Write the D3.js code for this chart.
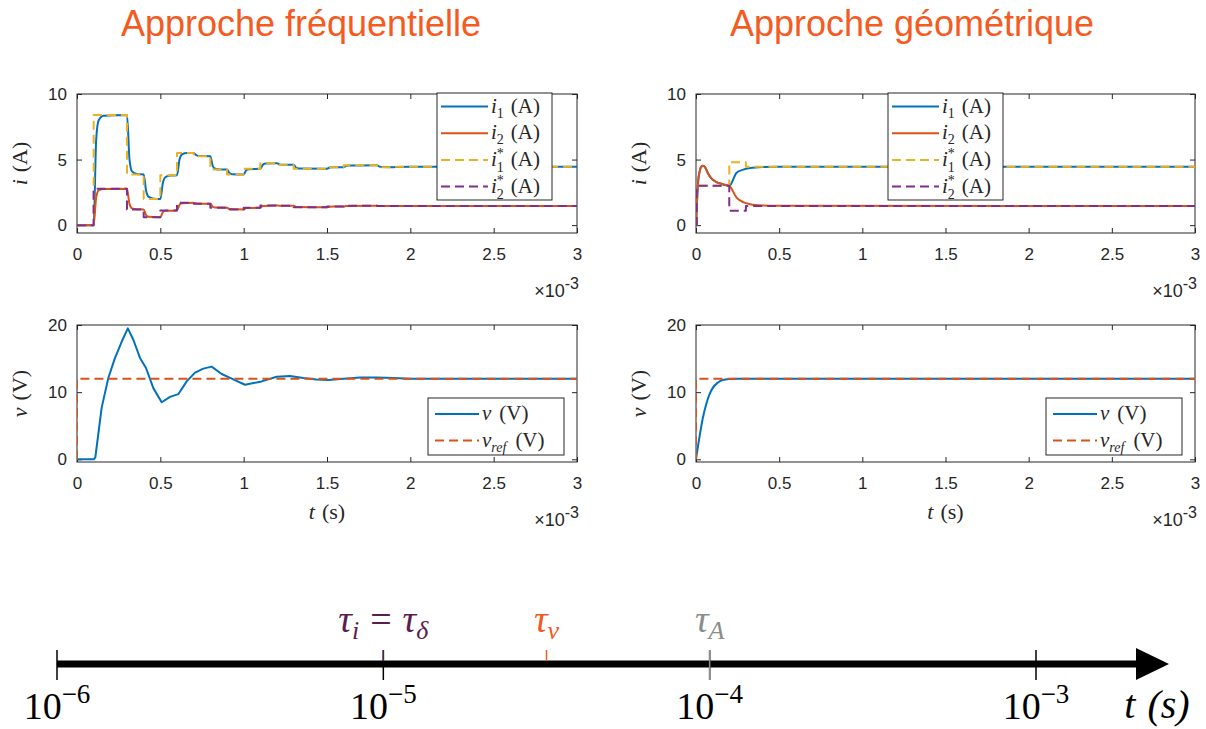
<!DOCTYPE html>
<meta charset="utf-8">
<style>
  body { margin: 0; background: #fff; }
  .tick text { font-family: "Liberation Sans", Arial, sans-serif; font-size: 17px; }
  .math { font-family: "Liberation Serif", "DejaVu Serif", serif; }
  .title { font-family: "Liberation Sans", Arial, sans-serif; font-size: 36px; fill: #f55a1e; }
</style>
<body>
<svg width="1206" height="729"></svg>
</body>
<script src="https://d3js.org/d3.v7.min.js"></script>
<script>
    let BLUE = "#0072BD", RED = "#D95319", YELLOW = "#EDB120", PURPLE = "#7E2F8E";
    let INK = "#262626";

    // ---- data, time in ms ----
    // approche frequentielle : courants (mesures + references en escalier)
    let i1Freq = [[0,0],[0.1,0],[0.115,6.5],[0.13,8.0],[0.16,8.35],[0.3,8.4],
        [0.315,5.0],[0.33,4.1],[0.36,3.9],[0.4,3.86],[0.415,2.6],[0.43,2.15],[0.46,2.02],[0.5,2.0],
        [0.515,3.2],[0.53,3.65],[0.56,3.78],[0.6,3.8],[0.615,5.0],[0.63,5.4],[0.66,5.5],[0.7,5.5],
        [0.715,5.33],[0.73,5.28],[0.8,5.26],[0.815,4.5],[0.83,4.3],[0.86,4.24],[0.9,4.24],
        [0.915,3.97],[0.93,3.88],[1.0,3.86],[1.015,4.18],[1.03,4.27],[1.1,4.3],
        [1.115,4.6],[1.13,4.7],[1.2,4.72],[1.215,4.63],[1.23,4.6],[1.3,4.6],
        [1.315,4.38],[1.33,4.32],[1.5,4.3],[1.515,4.39],[1.53,4.41],[1.6,4.42],
        [1.615,4.52],[1.63,4.55],[1.8,4.56],[1.815,4.46],[1.83,4.43],[1.9,4.42],[1.915,4.44],[2.0,4.45],[3.0,4.45]];
    let i2Freq = [[0,0],[0.1,0],[0.115,2.1],[0.13,2.65],[0.16,2.75],[0.3,2.77],
        [0.315,1.6],[0.33,1.28],[0.36,1.21],[0.4,1.2],[0.415,0.75],[0.43,0.63],[0.5,0.6],
        [0.515,0.99],[0.53,1.09],[0.6,1.12],[0.615,1.55],[0.63,1.67],[0.7,1.7],
        [0.715,1.65],[0.8,1.63],[0.815,1.4],[0.83,1.35],[0.9,1.33],[0.915,1.23],[1.0,1.2],
        [1.015,1.3],[1.1,1.33],[1.115,1.46],[1.2,1.5],[1.215,1.48],[1.3,1.48],
        [1.315,1.39],[1.5,1.36],[1.515,1.41],[1.6,1.42],[1.615,1.46],[1.8,1.47],[1.815,1.45],[3.0,1.45]];
    let i1RefFreq = [[0,0],[0.1,8.4],[0.3,3.86],[0.4,2.0],[0.5,3.8],[0.6,5.5],[0.7,5.26],[0.8,4.24],
        [0.9,3.86],[1.0,4.3],[1.1,4.72],[1.2,4.6],[1.3,4.3],[1.5,4.42],[1.6,4.56],[1.8,4.42],[1.9,4.45],[3.0,4.45]];
    let i2RefFreq = [[0,0],[0.1,2.77],[0.3,1.2],[0.4,0.6],[0.5,1.12],[0.6,1.7],[0.7,1.63],[0.8,1.33],
        [0.9,1.2],[1.0,1.33],[1.1,1.5],[1.2,1.48],[1.3,1.36],[1.5,1.42],[1.6,1.47],[1.8,1.45],[3.0,1.45]];

    // approche geometrique : courants
    let i1Geo = [[0,0],[0.005,1.5],[0.012,3.2],[0.022,4.1],[0.032,4.45],[0.044,4.52],[0.055,4.4],
        [0.07,4.0],[0.09,3.6],[0.12,3.3],[0.16,3.12],[0.2,3.0],[0.244,4.0],[0.284,4.23],
        [0.325,4.35],[0.4,4.43],[0.5,4.45],[3.0,4.45]];
    let i2Geo = [[0,0],[0.005,1.5],[0.012,3.2],[0.022,4.1],[0.032,4.45],[0.044,4.52],[0.055,4.4],
        [0.07,4.0],[0.09,3.6],[0.12,3.3],[0.16,3.12],[0.2,3.0],[0.244,2.1],[0.284,1.75],
        [0.325,1.6],[0.4,1.5],[0.5,1.47],[3.0,1.45]];
    let i1RefGeo = [[0,0],[0.005,3.0],[0.2,4.8],[0.3,4.45],[3.0,4.45]];
    let i2RefGeo = [[0,0],[0.005,3.0],[0.2,1.1],[0.3,1.45],[3.0,1.45]];

    // tensions
    let vFreq = [[0,0],[0.1,0],[0.11,0.3],[0.148,7.7],[0.188,12.1],[0.228,15.1],[0.268,17.5],
        [0.305,19.5],[0.338,17.8],[0.378,15.1],[0.414,13.6],[0.458,10.6],[0.508,8.5],[0.558,9.3],
        [0.608,9.7],[0.658,11.6],[0.708,12.9],[0.758,13.5],[0.808,13.8],[0.868,12.7],[0.938,11.9],
        [1.008,11.1],[1.108,11.6],[1.198,12.3],[1.278,12.4],[1.358,12.1],[1.438,11.9],[1.508,11.8],
        [1.6,12.0],[1.7,12.2],[1.8,12.2],[1.9,12.1],[2.0,12.0],[2.2,12.0],[3.0,12.0]];
    let vGeo = [[0,0],[0.02,3.2],[0.04,6.0],[0.06,8.1],[0.08,9.6],[0.1,10.6],[0.13,11.4],
        [0.16,11.8],[0.2,11.95],[0.25,12.0],[3.0,12.0]];
    let vRef = [[0,0],[0,12],[3.0,12]];

    let xTicks = [0, 0.5, 1, 1.5, 2, 2.5, 3];

    // echelle de temps (s)
    let decades = [-6, -5, -4, -3];
    let taus = [
        {value: 1e-5, color: "#5a1d4c", full: false},
        {value: Math.pow(10, -4.5), color: "#f25a1e", full: false},
        {value: 1e-4, color: "#8c8c8c", full: true}
    ];

    var svg = d3.select("svg");

    // texte "latex" : liste de morceaux
    function addMath(sel, pieces) {
        pieces.forEach(function(p) {
            let ts = sel.append("tspan").text(p.s);
            if (p.it) ts.attr("font-style", "italic");
            if (p.dx) ts.attr("dx", p.dx);
            if (p.dy) ts.attr("dy", p.dy);
            if (p.fs) ts.attr("font-size", p.fs);
        });
        return sel;
    }

    function lbl(name, idx, star, unit) {
        let out = [{s: name, it: 1}];
        if (star) {
            out.push({s: "*", dy: -8, fs: 14});
            out.push({s: idx, dx: -7, dy: 14, fs: 14});
        } else {
            out.push({s: idx, dy: 5, fs: 14});
        }
        out.push({s: "(" + unit + ")", dx: 7, dy: star ? -6 : -5});
        return out;
    }

    let uid = 0;
    function panel(p) {
        let x = d3.scaleLinear().domain([0, 3]).range([p.x0, p.x1]);
        let y = d3.scaleLinear().domain(p.ydom).range([p.y1, p.y0]);
        let g = svg.append("g");
        let cid = "clip" + (uid++);
        g.append("clipPath").attr("id", cid).append("rect")
            .attr("x", p.x0).attr("y", p.y0).attr("width", p.x1 - p.x0).attr("height", p.y1 - p.y0);

        g.append("rect")
            .attr("x", p.x0).attr("y", p.y0).attr("width", p.x1 - p.x0).attr("height", p.y1 - p.y0)
            .attr("fill", "none").attr("stroke", INK).attr("stroke-width", 1);

        let ax = g.append("g").attr("color", INK);
        ax.append("g").attr("transform", "translate(0," + p.y1 + ")")
            .call(d3.axisBottom(x).tickValues(xTicks).tickSize(-5).tickPadding(15).tickFormat(d => String(d)))
            .call(s => s.select(".domain").remove());
        ax.append("g").attr("transform", "translate(0," + p.y0 + ")")
            .call(d3.axisTop(x).tickValues(xTicks).tickSize(-5).tickFormat(""))
            .call(s => s.select(".domain").remove());
        ax.append("g").attr("transform", "translate(" + p.x0 + ",0)")
            .call(d3.axisLeft(y).tickValues(p.yticks).tickSize(-5).tickPadding(10).tickFormat(d => String(d)))
            .call(s => s.select(".domain").remove());
        ax.append("g").attr("transform", "translate(" + p.x1 + ",0)")
            .call(d3.axisRight(y).tickValues(p.yticks).tickSize(-5).tickFormat(""))
            .call(s => s.select(".domain").remove());
        ax.selectAll(".tick text").attr("fill", INK);

        let data = g.append("g").attr("clip-path", "url(#" + cid + ")");
        p.series.forEach(function(s) {
            let line = d3.line().x(d => x(d[0])).y(d => y(d[1]))
                .curve(s.step ? d3.curveStepAfter : (s.smooth ? d3.curveMonotoneX : d3.curveLinear));
            data.append("path").datum(s.data)
                .attr("d", line)
                .attr("fill", "none")
                .attr("stroke", s.color)
                .attr("stroke-width", 2)
                .attr("stroke-dasharray", s.dash ? "9,5" : null)
                .attr("stroke-linejoin", "round");
        });

        // y label
        let ym = (p.y0 + p.y1) / 2;
        addMath(g.append("text").attr("class", "math").attr("font-size", 22).attr("fill", INK)
            .attr("text-anchor", "middle")
            .attr("transform", "translate(" + (p.x0 - 50) + "," + ym + ") rotate(-90)"),
            [{s: p.ylab, it: 1}, {s: "(" + p.yunit + ")", dx: 7}]);

        if (p.xlab) {
            addMath(g.append("text").attr("class", "math").attr("font-size", 22).attr("fill", INK)
                .attr("text-anchor", "middle")
                .attr("x", (p.x0 + p.x1) / 2).attr("y", p.y1 + 57),
                [{s: "t", it: 1}, {s: "(s)", dx: 7}]);
        }

        // x10^-3
        let ex = g.append("text").attr("font-family", "Liberation Sans, Arial, sans-serif")
            .attr("font-size", 18).attr("fill", INK).attr("text-anchor", "end")
            .attr("x", p.x1 + 2).attr("y", p.y1 + 64);
        ex.append("tspan").text("\u00d710");
        ex.append("tspan").text("-3").attr("dy", -8).attr("font-size", 16);

        // legend
        let L = p.legend;
        let lg = g.append("g");
        lg.append("rect").attr("x", L.x).attr("y", L.y).attr("width", L.w).attr("height", L.h)
            .attr("fill", "#fff").attr("stroke", INK).attr("stroke-width", 1);
        L.entries.forEach(function(e, k) {
            let cy = L.y + L.first + k * L.gap;
            lg.append("line").attr("x1", L.x + L.l0).attr("x2", L.x + L.l1)
                .attr("y1", cy).attr("y2", cy)
                .attr("stroke", e.color).attr("stroke-width", 2)
                .attr("stroke-dasharray", e.dash ? "9,5" : null);
            addMath(lg.append("text").attr("class", "math").attr("font-size", 21).attr("fill", INK)
                .attr("x", L.x + L.l1 + 3).attr("y", cy + 6), e.text);
        });
    }

    let iLegendEntries = [
        {color: BLUE, dash: false, text: lbl("i", "1", false, "A")},
        {color: RED, dash: false, text: lbl("i", "2", false, "A")},
        {color: YELLOW, dash: true, text: lbl("i", "1", true, "A")},
        {color: PURPLE, dash: true, text: lbl("i", "2", true, "A")}
    ];
    let vLegendEntries = [
        {color: BLUE, dash: false, text: [{s: "v", it: 1}, {s: "(V)", dx: 8}]},
        {color: RED, dash: true, text: [{s: "v", it: 1}, {s: "ref", it: 1, dy: 5, fs: 14}, {s: "(V)", dx: 9, dy: -5}]}
    ];

    panel({x0: 77, x1: 577, y0: 94, y1: 233, ydom: [-0.6, 10], yticks: [0, 5, 10], ylab: "i", yunit: "A",
        series: [
            {data: i1Freq, color: BLUE, smooth: true},
            {data: i2Freq, color: RED, smooth: true},
            {data: i1RefFreq, color: YELLOW, dash: true, step: true},
            {data: i2RefFreq, color: PURPLE, dash: true, step: true}
        ],
        legend: {x: 437, y: 93, w: 115, h: 107, first: 13.5, gap: 26.7, l0: 4, l1: 51, entries: iLegendEntries}});
    panel({x0: 696, x1: 1195, y0: 94, y1: 233, ydom: [-0.6, 10], yticks: [0, 5, 10], ylab: "i", yunit: "A",
        series: [
            {data: i1Geo, color: BLUE, smooth: true},
            {data: i2Geo, color: RED, smooth: true},
            {data: i1RefGeo, color: YELLOW, dash: true, step: true},
            {data: i2RefGeo, color: PURPLE, dash: true, step: true}
        ],
        legend: {x: 888, y: 93, w: 115, h: 107, first: 13.5, gap: 26.7, l0: 4, l1: 51, entries: iLegendEntries}});
    panel({x0: 77, x1: 577, y0: 325, y1: 462, ydom: [-0.4, 20], yticks: [0, 10, 20], ylab: "v", yunit: "V", xlab: true,
        series: [
            {data: vFreq, color: BLUE},
            {data: vRef, color: RED, dash: true}
        ],
        legend: {x: 428, y: 398, w: 136, h: 57, first: 16, gap: 26.5, l0: 7, l1: 51, entries: vLegendEntries}});
    panel({x0: 696, x1: 1195, y0: 325, y1: 462, ydom: [-0.4, 20], yticks: [0, 10, 20], ylab: "v", yunit: "V", xlab: true,
        series: [
            {data: vGeo, color: BLUE, smooth: true},
            {data: vRef, color: RED, dash: true}
        ],
        legend: {x: 1046, y: 398, w: 136, h: 57, first: 16, gap: 26.5, l0: 7, l1: 51, entries: vLegendEntries}});

    // titres
    svg.append("text").attr("class", "title").attr("text-anchor", "middle")
        .attr("x", 301).attr("y", 36).text("Approche fréquentielle");
    svg.append("text").attr("class", "title").attr("text-anchor", "middle")
        .attr("x", 912).attr("y", 36).text("Approche géométrique");

    // ---- axe des constantes de temps ----
    let lx = d3.scaleLog().domain([1e-6, 1e-3]).range([57, 1036]);
    let ay = 664;
    let tl = svg.append("g");
    tl.append("line").attr("x1", lx(1e-6)).attr("x2", 1140).attr("y1", ay).attr("y2", ay)
        .attr("stroke", "#000").attr("stroke-width", 7);
    tl.append("path").attr("d", "M1136," + (ay - 16) + "L1169," + ay + "L1136," + (ay + 16) + "Z").attr("fill", "#000");

    tl.selectAll(".dec").data(decades).enter().append("line")
        .attr("x1", d => lx(Math.pow(10, d))).attr("x2", d => lx(Math.pow(10, d)))
        .attr("y1", ay - 14).attr("y2", ay + 16)
        .attr("stroke", "#000").attr("stroke-width", 1.5);
    tl.selectAll(".tau").data(taus).enter().append("line")
        .attr("x1", d => lx(d.value)).attr("x2", d => lx(d.value))
        .attr("y1", ay - 14).attr("y2", d => d.full ? ay + 16 : ay - 3)
        .attr("stroke", d => d.color).attr("stroke-width", 1.5);

    decades.forEach(function(d) {
        let t = tl.append("text").attr("class", "math").attr("font-size", 38).attr("fill", "#000")
            .attr("text-anchor", "middle").attr("x", lx(Math.pow(10, d))).attr("y", 719);
        t.append("tspan").text("10");
        t.append("tspan").text("\u2212" + (-d)).attr("font-size", 27).attr("dy", -16);
    });

    addMath(tl.append("text").attr("class", "math").attr("font-size", 38).attr("fill", taus[0].color)
        .attr("text-anchor", "middle").attr("x", lx(taus[0].value)).attr("y", 632),
        [{s: "\u03c4", it: 1}, {s: "i", it: 1, dy: 7, fs: 26}, {s: "=", dx: 11, dy: -7}, {s: "\u03c4", it: 1, dx: 11}, {s: "\u03b4", it: 1, dy: 7, fs: 26}]);
    addMath(tl.append("text").attr("class", "math").attr("font-size", 38).attr("fill", taus[1].color)
        .attr("text-anchor", "middle").attr("x", lx(taus[1].value)).attr("y", 632),
        [{s: "\u03c4", it: 1}, {s: "v", it: 1, dy: 7, fs: 26}]);
    addMath(tl.append("text").attr("class", "math").attr("font-size", 38).attr("fill", taus[2].color)
        .attr("text-anchor", "middle").attr("x", lx(taus[2].value)).attr("y", 632),
        [{s: "\u03c4", it: 1}, {s: "A", it: 1, dy: 7, fs: 26}]);

    addMath(tl.append("text").attr("class", "math").attr("font-size", 40).attr("fill", "#000")
        .attr("text-anchor", "middle").attr("x", 1157).attr("y", 718),
        [{s: "t", it: 1}, {s: "(s)", dx: 12, it: 1}]);
</script>
